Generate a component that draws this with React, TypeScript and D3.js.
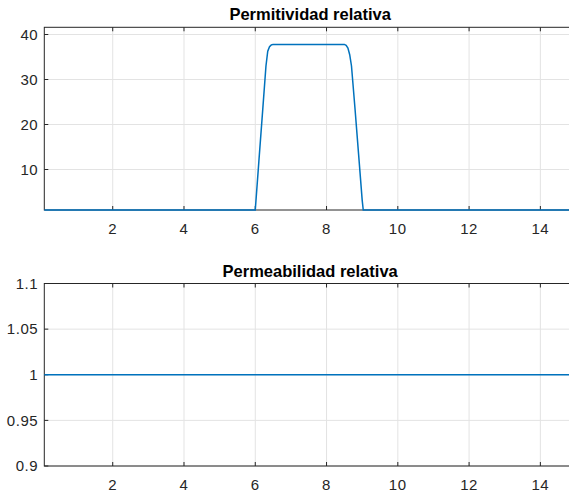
import React, { useEffect, useRef } from "react";
import * as d3 from "d3";

const width = 569;
const height = 494;

// permitividad relativa (x en unidades del eje, valor relativo)
const posX = [0.08, 6.0, 6.1, 6.2, 6.3, 6.35, 6.4, 6.45, 6.5, 8.5, 8.55, 8.6, 8.65, 8.7, 8.8, 8.9, 9.0, 9.03, 15];
const permitividad = [1, 1, 11.7, 22.3, 33, 36.3, 37.3, 37.7, 37.8, 37.8, 37.6, 37.0, 35.5, 33.0, 23.4, 13.3, 3.2, 1, 1];

// permeabilidad relativa
const posXMu = [0.08, 15];
const permeabilidad = [1, 1];

const xTicks = [2, 4, 6, 8, 10, 12, 14];
const epsTicks = [10, 20, 30, 40];
const muTicks = [0.9, 0.95, 1, 1.05, 1.1];
const muTickLabels = ["0.9", "0.95", "1", "1.05", "1.1"];

const space = { left: 44.3, right: 576 };
const panels = [
  { title: "Permitividad relativa", top: 27.3, bottom: 210, yDomain: [1, 41.6], yTicks: epsTicks, yLabels: epsTicks.map(String), xs: posX, ys: permitividad },
  { title: "Permeabilidad relativa", top: 283.5, bottom: 466, yDomain: [0.9, 1.1], yTicks: muTicks, yLabels: muTickLabels, xs: posXMu, ys: permeabilidad },
];

const axisColor = "#262626";
const gridColor = "#e3e3e3";
const lineColor = "#0072bd";
const font = "Arial, 'Liberation Sans', Helvetica, sans-serif";

const App = () => {
  const ref = useRef<SVGSVGElement>(null);

  useEffect(() => {
    const svg = d3.select(ref.current);
    svg.selectAll("*").remove();

    const x = d3.scaleLinear().domain([0.08, 15]).range([space.left, space.right]);

    panels.forEach((p) => {
      const y = d3.scaleLinear().domain(p.yDomain).range([p.bottom, p.top]);
      const g = svg.append("g");

      // grid
      g.append("g")
        .selectAll("line")
        .data(xTicks)
        .join("line")
        .attr("x1", (d) => x(d))
        .attr("x2", (d) => x(d))
        .attr("y1", p.top)
        .attr("y2", p.bottom)
        .attr("stroke", gridColor);
      g.append("g")
        .selectAll("line")
        .data(p.yTicks)
        .join("line")
        .attr("x1", space.left)
        .attr("x2", space.right)
        .attr("y1", (d) => y(d))
        .attr("y2", (d) => y(d))
        .attr("stroke", gridColor);

      // box
      g.append("rect")
        .attr("x", space.left)
        .attr("y", p.top)
        .attr("width", space.right - space.left)
        .attr("height", p.bottom - p.top)
        .attr("fill", "none")
        .attr("stroke", axisColor)
        .attr("stroke-width", 1);

      // tick marks (inside)
      const tl = 4;
      g.append("g")
        .selectAll("path")
        .data(xTicks)
        .join("path")
        .attr("d", (d) => `M${x(d)},${p.bottom}v${-tl}M${x(d)},${p.top}v${tl}`)
        .attr("stroke", axisColor);
      g.append("g")
        .selectAll("path")
        .data(p.yTicks)
        .join("path")
        .attr("d", (d) => `M${space.left},${y(d)}h${tl}`)
        .attr("stroke", axisColor);

      // tick labels
      g.append("g")
        .selectAll("text")
        .data(xTicks)
        .join("text")
        .attr("x", (d) => x(d))
        .attr("y", p.bottom + 24)
        .attr("text-anchor", "middle")
        .attr("font-family", font)
        .attr("font-size", 15)
        .attr("letter-spacing", 0.6)
        .attr("fill", axisColor)
        .text((d) => String(d));
      g.append("g")
        .selectAll("text")
        .data(p.yTicks)
        .join("text")
        .attr("x", space.left - 6)
        .attr("y", (d) => y(d))
        .attr("dy", "0.35em")
        .attr("text-anchor", "end")
        .attr("font-family", font)
        .attr("font-size", 15)
        .attr("letter-spacing", 0.6)
        .attr("fill", axisColor)
        .text((d, i) => p.yLabels[i]);

      // title
      g.append("text")
        .attr("x", (space.left + space.right) / 2)
        .attr("y", p.top - 7)
        .attr("text-anchor", "middle")
        .attr("font-family", font)
        .attr("font-size", 16.5)
        .attr("font-weight", "bold")
        .attr("fill", "#000")
        .text(p.title);

      // data line
      const line = d3
        .line<number>()
        .x((d, i) => x(p.xs[i]))
        .y((d) => y(d));
      g.append("path")
        .datum(p.ys)
        .attr("d", line)
        .attr("fill", "none")
        .attr("stroke", lineColor)
        .attr("stroke-width", 1.5);
    });
  }, []);

  return (
    <svg
      ref={ref}
      width={width}
      height={height}
      style={{ position: "absolute", left: 0, top: 0, background: "#fff" }}
    />
  );
};

export default App;
